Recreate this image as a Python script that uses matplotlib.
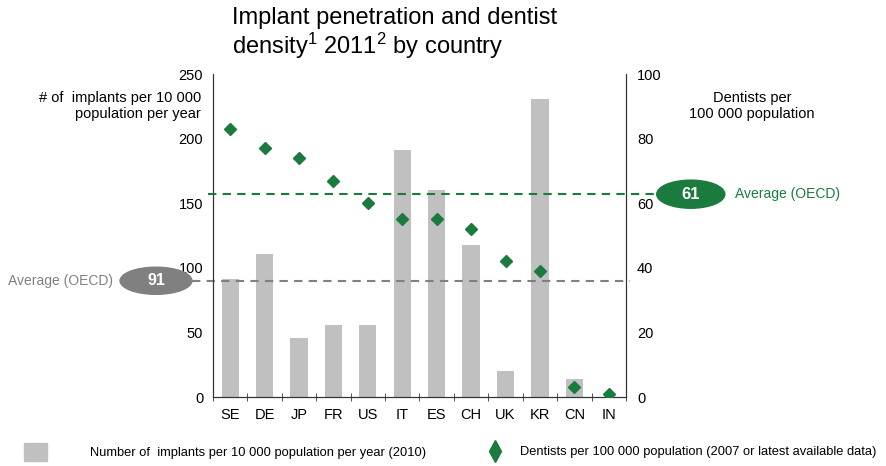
import numpy as np
import matplotlib.pyplot as plt
from matplotlib.patches import Ellipse
from matplotlib.lines import Line2D
from matplotlib.patches import Patch
import matplotlib.transforms as mtransforms

plt.rcParams['font.family'] = ['Liberation Sans', 'DejaVu Sans']
plt.rcParams['mathtext.default'] = 'regular'

# datos
countries = ["SE", "DE", "JP", "FR", "US", "IT", "ES", "CH", "UK", "KR", "CN", "IN"]
implants = [91, 111, 46, 56, 56, 191, 160, 118, 20, 231, 14, 0]
dentists = [83, 77, 74, 67, 60, 55, 55, 52, 42, 39, 3, 1]
avg_implants_line = 90
avg_implants_label = "91"
avg_dentists_line = 62.8
avg_dentists_label = "61"

grey = "#c0c0c0"
dgrey = "#808080"
green = "#1b7a3e"

fig = plt.figure(figsize=(8.87, 4.66), dpi=100)
ax = fig.add_axes([0.2401, 0.148, 0.4656, 0.6931])
ax2 = ax.twinx()

x = np.arange(len(countries))
ax.bar(x, implants, width=0.5, color=grey, zorder=2)
ax2.plot(x, dentists, linestyle="none", marker="D", markersize=6.5,
         color=green, zorder=3)

ax.set_xlim(-0.5, len(countries) - 0.5)
ax.set_ylim(0, 250)
ax2.set_ylim(0, 100)
ax.set_yticks([0, 50, 100, 150, 200, 250])
ax2.set_yticks([0, 20, 40, 60, 80, 100])
ax.tick_params(axis="y", length=0, pad=7, labelsize=10.5)
ax2.tick_params(axis="y", length=0, pad=8, labelsize=10.5)

ax.set_xticks(x)
ax.set_xticklabels(countries)
ax.set_xticks(np.arange(len(countries) + 1) - 0.5, minor=True)
ax.tick_params(axis="x", which="major", length=0, pad=8, labelsize=10.5)
ax.tick_params(axis="x", which="minor", length=6, direction="inout", color="#333333")

for a in (ax, ax2):
    a.spines["top"].set_visible(False)
    for s in ("left", "right", "bottom"):
        a.spines[s].set_color("#333333")

# lineas de promedio
ax.axhline(avg_implants_line, xmin=-0.05, xmax=1.01, color=dgrey, linestyle=(0, (4, 3)),
           linewidth=1.5, clip_on=False, zorder=4)
ax2.axhline(avg_dentists_line, xmin=-0.012, xmax=1.075, color=green, linestyle=(0, (4, 3)),
            linewidth=1.5, clip_on=False, zorder=4)

tr1 = mtransforms.blended_transform_factory(ax.transAxes, ax.transData)
tr2 = mtransforms.blended_transform_factory(ax2.transAxes, ax2.transData)
ax.add_patch(Ellipse((-0.138, avg_implants_line), 0.174, 21, transform=tr1,
                     color=dgrey, clip_on=False, zorder=5))
ax.text(-0.138, avg_implants_line, avg_implants_label, transform=tr1, color="white",
        fontsize=11.5, fontweight="bold", ha="center", va="center", zorder=6)
ax.text(-0.243, avg_implants_line, "Average (OECD)", transform=tr1, color=dgrey,
        fontsize=10, ha="right", va="center")
ax2.add_patch(Ellipse((1.157, avg_dentists_line), 0.165, 8.7, transform=tr2,
                      color=green, clip_on=False, zorder=5))
ax2.text(1.157, avg_dentists_line, avg_dentists_label, transform=tr2, color="white",
         fontsize=12, fontweight="bold", ha="center", va="center", zorder=6)
ax2.text(1.265, avg_dentists_line, "Average (OECD)", transform=tr2, color=green,
         fontsize=10, ha="left", va="center")

# titulos de ejes
fig.text(201 / 887, 1 - 106 / 466, "# of  implants per 10 000\npopulation per year",
         ha="right", va="center", fontsize=10.5, linespacing=1.25)
fig.text(752 / 887, 1 - 106 / 466, "Dentists per\n100 000 population",
         ha="center", va="center", fontsize=10.5, linespacing=1.25)

fig.text(232 / 887, 1 - 34 / 466, "Implant penetration and dentist\ndensity$^1$ 2011$^2$ by country",
         ha="left", va="center", fontsize=17, linespacing=1.05)

# leyenda
h1 = Patch(color=grey)
h2 = Line2D([], [], linestyle="none", marker="d", markersize=11, color=green)
fig.legend([h1], ["Number of  implants per 10 000 population per year (2010)"],
           loc="center left", bbox_to_anchor=(12 / 887, 1 - 452 / 466), frameon=False,
           fontsize=9.3, handlelength=1.8, handleheight=1.8, handletextpad=3.3)
fig.legend([h2], ["Dentists per 100 000 population (2007 or latest available data)"],
           loc="center left", bbox_to_anchor=(470 / 887, 1 - 452 / 466), frameon=False,
           fontsize=9.3, handlelength=2, handletextpad=1.0)

fig.savefig("out.png", dpi=100)
